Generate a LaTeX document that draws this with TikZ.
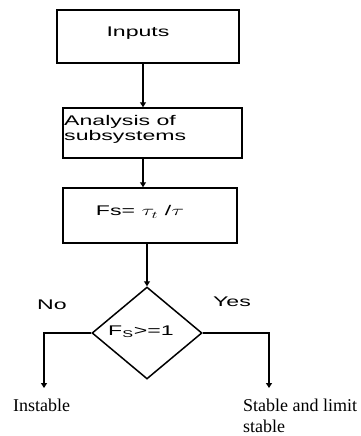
\documentclass[tikz,border=0pt]{standalone}
\usepackage{fontspec}
\setmainfont{Liberation Serif}
\newfontfamily\arialf{Liberation Sans}
\usetikzlibrary{arrows.meta,shapes.geometric}
\newcommand\sxx[1]{\scalebox{1.65}[1]{#1}}
\begin{document}
\begin{tikzpicture}[x=1pt,y=-1pt,
  box/.style={draw,line width=1.5pt,inner sep=0pt},
  sans/.style={font=\arialf\fontsize{14}{15}\selectfont,inner sep=0pt},
  serif/.style={font=\fontsize{18}{21}\selectfont,inner sep=0pt},
  arr/.style={line width=1.5pt,-{Triangle[length=5pt,width=6pt]}}]
\useasboundingbox (0,0) rectangle (361,436);
% boxes
\node[box,minimum width=182pt,minimum height=53pt] (b1) at (148,36.5) {};
\node[sans] (t1) at (138,33) {\sxx{Inputs}};
\node[box,minimum width=179pt,minimum height=50pt] (b2) at (152.5,133) {};
\node[sans,align=left,anchor=base west] (t2) at (64,140) {\sxx{Analysis of}\\\sxx{subsystems}};
\node[box,minimum width=174pt,minimum height=55pt] (b3) at (150,215.5) {};
\node[sans] (t3) at (140,212) {\sxx{Fs= $\tau_t$ /$\tau$}};
% decision
\node[draw,diamond,line width=1.5pt,inner sep=0pt,aspect=1.2,minimum width=110pt,minimum height=92pt] (d) at (147,333) {};
\node[sans] (t4) at (141,332) {\sxx{F\textsubscript{S}>=1}};
\node[sans] (no) at (52,305) {\sxx{No}};
\node[sans] (yes) at (232,302) {\sxx{Yes}};
% ends
\coordinate (lend) at (44,388);
\coordinate (rend) at (269,388);
\node[serif,anchor=base west] (ins) at (13,411) {Instable};
\node[serif,anchor=base west,align=left] (st) at (243,432) {Stable and limit\\stable};
% connectors
\draw[arr] ([xshift=-5pt]b1.south) -- ([xshift=-5pt]b1.south |- b2.north);
\draw[arr] ([xshift=-9.5pt]b2.south) -- ([xshift=-9.5pt]b2.south |- b3.north);
\draw[arr] (b3.south -| d.north) -- (d.north);
\draw[arr] (d.west) -| (lend);
\draw[arr] (d.east) -| (rend);
\end{tikzpicture}
\end{document}
